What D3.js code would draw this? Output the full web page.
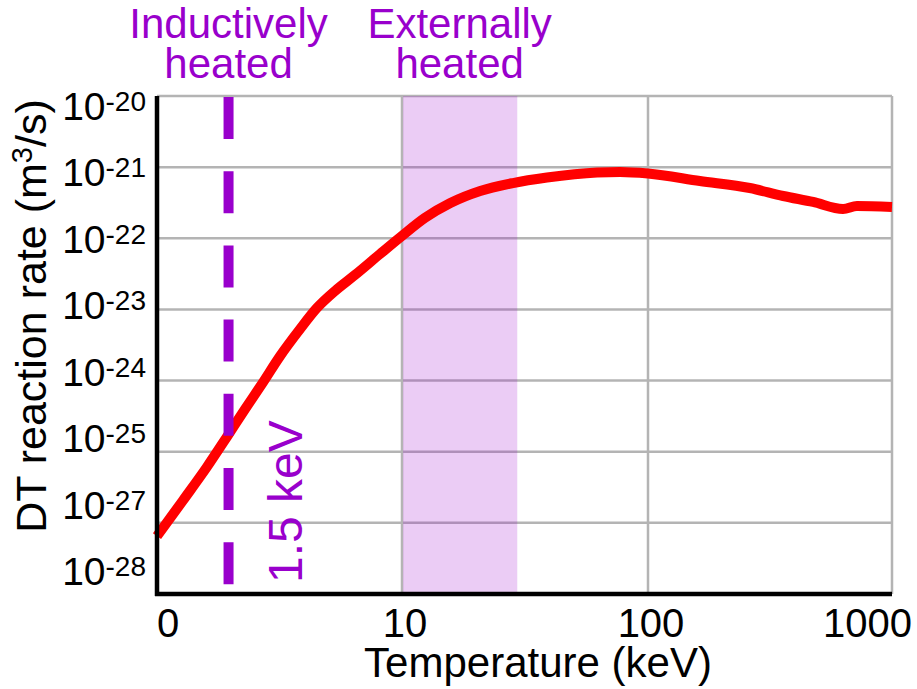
<!DOCTYPE html>
<html>
<head>
<meta charset="utf-8">
<script src="https://cdn.jsdelivr.net/npm/d3@7"></script>
<style>
  html, body { margin: 0; padding: 0; background: #fff; }
  svg { display: block; font-family: "Liberation Sans", Arial, sans-serif; }
</style>
</head>
<body>
<svg id="chart" width="917" height="689"></svg>
<script>
// DT fusion reaction rate <σv> versus plasma temperature
const temperatureKeV = [0, 0.47, 0.97, 1.49, 1.96, 2.48, 3.11, 3.9, 4.65, 5.55, 6.68, 8.32, 10,
  12.7, 16.4, 21.9, 29.8, 40.7, 63.8, 78.2, 100, 164, 263, 360, 477, 632, 720, 1000];
const reactionRate = [6.5e-27, 2.09e-26, 6.1e-26, 1.72e-25, 3.98e-25, 8.95e-25, 2.21e-24, 5.31e-24,
  1.05e-23, 1.82e-23, 3.05e-23, 6.01e-23, 1.08e-22,
  1.93e-22, 3.13e-22, 4.62e-22, 5.98e-22, 7.15e-22, 8.41e-22, 8.55e-22, 8.14e-22, 6.39e-22,
  5.09e-22, 3.93e-22, 3.24e-22, 2.58e-22, 2.84e-22, 2.75e-22];

// axis ticks
const xTickValues = [0, 10, 100, 1000];
const xTickLabels = ["0", "10", "100", "1000"];
const yGridValues = [1e-20, 1e-21, 1e-22, 1e-23, 1e-24, 1e-25, 1e-26, 1e-27];
const yTickExponents = ["-20", "-21", "-22", "-23", "-24", "-25", "-27", "-28"];

// heating regimes
const inductiveLimitKeV = 1.5;
const externalRangeKeV = [10, 31];
const regimeLabels = [["Inductively", "heated"], ["Externally", "heated"]];

const purple = "#9900cc";
const gridColor = "#b4b4b4";

const svg = d3.select("#chart");
const plotLeft = 157, plotRight = 892, plotTop = 96, plotBottom = 594;

// each decade (0-10, 10-100, 100-1000) gets equal width
const x = d3.scaleSymlog().constant(2.5)
  .domain(xTickValues)
  .range([plotLeft, 402, 648, plotRight]);
const y = d3.scaleLog().domain([1e-20, 1e-27]).range([plotTop, plotBottom]);

// horizontal grid
svg.append("g").selectAll("line").data(yGridValues).join("line")
  .attr("x1", plotLeft).attr("x2", plotRight)
  .attr("y1", d => y(d)).attr("y2", d => y(d))
  .attr("stroke", gridColor).attr("stroke-width", 2.5);

// vertical grid
svg.append("g").selectAll("line").data(xTickValues.slice(1)).join("line")
  .attr("x1", d => x(d)).attr("x2", d => x(d))
  .attr("y1", plotTop).attr("y2", plotBottom)
  .attr("stroke", gridColor).attr("stroke-width", 2.5);

// externally heated band
svg.append("rect")
  .attr("x", x(externalRangeKeV[0]) + 1)
  .attr("y", plotTop)
  .attr("width", x(externalRangeKeV[1]) - x(externalRangeKeV[0]) - 1)
  .attr("height", plotBottom - plotTop)
  .attr("fill", purple).attr("fill-opacity", 0.2);

// reaction rate curve
const line = d3.line()
  .x(d => x(d[0]))
  .y(d => y(d[1]))
  .curve(d3.curveMonotoneX);
svg.append("path")
  .datum(d3.zip(temperatureKeV, reactionRate))
  .attr("d", line)
  .attr("fill", "none")
  .attr("stroke", "#ff0000")
  .attr("stroke-width", 10)
  .attr("stroke-linejoin", "round");

// inductive heating limit
svg.append("line")
  .attr("x1", x(inductiveLimitKeV)).attr("x2", x(inductiveLimitKeV))
  .attr("y1", plotTop + 1).attr("y2", plotBottom)
  .attr("stroke", purple).attr("stroke-width", 10)
  .attr("stroke-dasharray", "42 32.2");

svg.append("text")
  .attr("transform", `translate(${x(inductiveLimitKeV) + 73},583) rotate(-90)`)
  .attr("fill", purple)
  .attr("font-size", 48)
  .text(`${inductiveLimitKeV} keV`);

// axes
svg.append("line")
  .attr("x1", plotLeft).attr("x2", plotLeft).attr("y1", plotTop).attr("y2", plotBottom + 2)
  .attr("stroke", "#000").attr("stroke-width", 4.5);
svg.append("line")
  .attr("x1", plotLeft - 2).attr("x2", plotRight).attr("y1", plotBottom).attr("y2", plotBottom)
  .attr("stroke", "#000").attr("stroke-width", 4.5);

// y tick labels
const yLabelPos = d3.scalePoint().domain(yTickExponents).range([120, 585]);
const yLab = svg.append("g").selectAll("text").data(yTickExponents).join("text")
  .attr("x", 146)
  .attr("y", d => yLabelPos(d))
  .attr("text-anchor", "end")
  .attr("font-size", 39);
yLab.append("tspan").text("10");
yLab.append("tspan").attr("dy", -9).attr("font-size", 28).text(d => d);

// x tick labels, kept inside the frame
svg.append("g").selectAll("text").data(xTickValues).join("text")
  .attr("font-size", 40)
  .attr("y", 637)
  .attr("text-anchor", "middle")
  .text((d, i) => xTickLabels[i])
  .attr("x", function(d) {
    const w = this.getComputedTextLength();
    return Math.max(plotLeft + w / 2, Math.min(x(d) + 3, 912 - w / 2));
  });

// axis titles
svg.append("text")
  .attr("x", 538).attr("y", 677)
  .attr("text-anchor", "middle")
  .attr("font-size", 42)
  .text("Temperature (keV)");

const yTitle = svg.append("text")
  .attr("transform", "translate(46,316) rotate(-90)")
  .attr("text-anchor", "middle")
  .attr("font-size", 43);
yTitle.append("tspan").text("DT reaction rate (m");
yTitle.append("tspan").attr("dy", -14).attr("font-size", 29).text("3");
yTitle.append("tspan").attr("dy", 14).text("/s)");

// regime labels above the plot, two lines each
const regimeCenters = [x(inductiveLimitKeV), (x(externalRangeKeV[0]) + x(externalRangeKeV[1])) / 2];
regimeLabels.forEach((lines, i) => {
  const t = svg.append("text")
    .attr("y", 38)
    .attr("text-anchor", "middle")
    .attr("fill", purple)
    .attr("font-size", 42);
  lines.forEach((s, j) => {
    t.append("tspan")
      .attr("x", regimeCenters[i])
      .attr("dy", j === 0 ? 0 : 40)
      .text(s);
  });
});
</script>
</body>
</html>
